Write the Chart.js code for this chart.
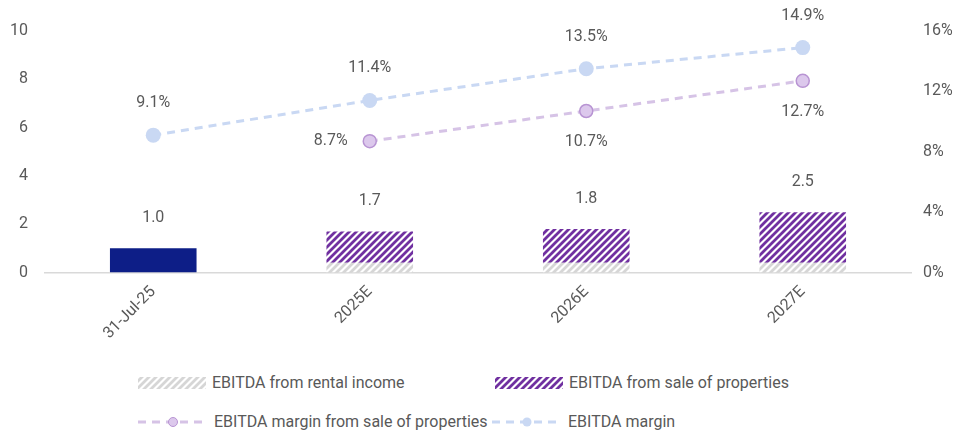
<!DOCTYPE html>
<html>
<head>
<meta charset="utf-8">
<script src="https://cdn.jsdelivr.net/npm/chart.js@4/dist/chart.umd.min.js"></script>
<style>
  body { margin: 0; background: #fff; font-family: Roboto, sans-serif; }
  #wrap { position: relative; width: 957px; height: 430px; }
  #chart { position: absolute; left: 0; top: 0; }
  .lg { position: absolute; display: flex; align-items: center; font-size: 16px; line-height: 18px; color: #595959; white-space: nowrap; }
  .lg canvas { margin-right: 6px; }
</style>
</head>
<body>
<div id="wrap">
  <canvas id="chart" width="957" height="361"></canvas>
  <div id="legend"></div>
</div>
<script>
const categories = ['31-Jul-25', '2025E', '2026E', '2027E']
const ebitdaActual = [1.0, null, null, null]
const ebitdaRental = [null, 0.4, 0.4, 0.4]
const ebitdaSale = [null, 1.3, 1.4, 2.1]
const ebitdaTotal = [1.0, 1.7, 1.8, 2.5]
const marginSale = [null, 8.7, 10.7, 12.7]
const marginTotal = [9.1, 11.4, 13.5, 14.9]
const leftTicks = [0, 2, 4, 6, 8, 10]
const rightTicks = [0, 4, 8, 12, 16]

const textColor = '#595959'
const font = { family: 'Roboto', size: 16 }

// diagonal hatch tile
function hatch(color) {
  const size = 7
  const c = document.createElement('canvas')
  c.width = size
  c.height = size
  const g = c.getContext('2d')
  g.fillStyle = '#fff'
  g.fillRect(0, 0, size, size)
  g.strokeStyle = color
  g.lineWidth = 2.8
  g.beginPath()
  g.moveTo(-1, size + 1); g.lineTo(size + 1, -1)
  g.moveTo(-1, 1); g.lineTo(1, -1)
  g.moveTo(size - 1, size + 1); g.lineTo(size + 1, size - 1)
  g.stroke()
  return document.createElement('canvas').getContext('2d').createPattern(c, 'repeat')
}
const greyHatch = hatch('#d6d6d6')
const purpleHatch = hatch('#7030a0')

// value labels for bars and lines
const valueLabels = {
  id: 'valueLabels',
  afterDatasetsDraw(chart) {
    const ctx = chart.ctx
    ctx.save()
    ctx.font = '16px Roboto'
    ctx.fillStyle = textColor
    ctx.textAlign = 'center'
    ctx.textBaseline = 'middle'
    const x = chart.scales.x, y = chart.scales.y, y1 = chart.scales.y1
    ebitdaTotal.forEach((v, i) => {
      ctx.fillText(v.toFixed(1), x.getPixelForValue(i), y.getPixelForValue(v) - 30)
    })
    marginTotal.forEach((v, i) => {
      ctx.fillText(v.toFixed(1) + '%', x.getPixelForValue(i), y1.getPixelForValue(v) - 32)
    })
    marginSale.forEach((v, i) => {
      if (v === null) return
      const px = x.getPixelForValue(i), py = y1.getPixelForValue(v)
      if (i === 1) {
        ctx.textAlign = 'right'
        ctx.fillText(v.toFixed(1) + '%', px - 22, py)
        ctx.textAlign = 'center'
      } else {
        ctx.fillText(v.toFixed(1) + '%', px, py + 31)
      }
    })
    ctx.restore()
  }
}

const chart = new Chart(document.getElementById('chart'), {
  type: 'bar',
  data: {
    labels: categories,
    datasets: [
      { label: 'EBITDA margin', type: 'line', data: marginTotal, yAxisID: 'y1',
        borderColor: '#c9d8f3', backgroundColor: '#c9d8f3', borderWidth: 3, borderDash: [8, 6],
        pointRadius: 7.5, pointBorderWidth: 0, pointBackgroundColor: '#c9d8f3', order: 1 },
      { label: 'EBITDA margin from sale of properties', type: 'line', data: marginSale, yAxisID: 'y1',
        borderColor: '#d6c3e6', backgroundColor: '#dcc8ec', borderWidth: 3, borderDash: [8, 6],
        pointRadius: 6.5, pointBorderWidth: 1.5, pointBorderColor: '#b894d3', pointBackgroundColor: '#dcc8ec', order: 0 },
      { label: 'actual', data: ebitdaActual, backgroundColor: '#0d1e87', stack: 's', order: 2 },
      { label: 'EBITDA from rental income', data: ebitdaRental, backgroundColor: greyHatch, stack: 's', order: 2 },
      { label: 'EBITDA from sale of properties', data: ebitdaSale, backgroundColor: purpleHatch, stack: 's', order: 2 }
    ]
  },
  options: {
    responsive: false,
    animation: false,
    layout: { padding: { top: 31, left: 10, right: 2, bottom: 8 } },
    datasets: { bar: { barPercentage: 0.8, categoryPercentage: 0.5 } },
    plugins: { legend: { display: false }, tooltip: { enabled: false } },
    scales: {
      x: {
        stacked: true,
        grid: { display: false, drawTicks: false },
        border: { display: true, color: '#d9d9d9', width: 1.5 },
        ticks: { color: textColor, font, minRotation: 45, maxRotation: 45, padding: 10 },
        // rotated labels fit inside the plot, no extra side padding
        afterFit: (s) => { s.paddingLeft = 0; s.paddingRight = 0 }
      },
      y: {
        stacked: true, min: 0, max: 10,
        afterBuildTicks: (s) => { s.ticks = leftTicks.map(v => ({ value: v })) },
        grid: { display: false, drawTicks: false }, border: { display: false },
        ticks: { color: textColor, font, padding: 17 },
        afterFit: (s) => { s.width = 35 }
      },
      y1: {
        position: 'right', min: 0, max: 16,
        afterBuildTicks: (s) => { s.ticks = rightTicks.map(v => ({ value: v })) },
        grid: { display: false, drawTicks: false }, border: { display: false },
        ticks: { color: textColor, font, padding: 12, callback: (v) => v + '%' },
        afterFit: (s) => { s.width = 44 }
      }
    }
  },
  plugins: [valueLabels]
})

// legend below the chart, two per row
const legendItems = [
  { text: 'EBITDA from rental income', kind: 'box', fill: greyHatch, left: 138, top: 374 },
  { text: 'EBITDA from sale of properties', kind: 'box', fill: purpleHatch, left: 495, top: 374 },
  { text: 'EBITDA margin from sale of properties', kind: 'line', ds: chart.data.datasets[1], left: 138, top: 413 },
  { text: 'EBITDA margin', kind: 'line', ds: chart.data.datasets[0], left: 492, top: 413 }
]
const legend = document.getElementById('legend')
legendItems.forEach((it) => {
  const row = document.createElement('div')
  row.className = 'lg'
  row.style.left = it.left + 'px'
  row.style.top = it.top + 'px'
  const sw = document.createElement('canvas')
  sw.width = it.kind === 'box' ? 68 : 70
  sw.height = 18
  const g = sw.getContext('2d')
  if (it.kind === 'box') {
    g.fillStyle = it.fill
    g.fillRect(0, 3, sw.width, 12)
  } else {
    g.strokeStyle = it.ds.borderColor
    g.lineWidth = 3
    g.setLineDash([8, 6])
    g.beginPath(); g.moveTo(0, 9); g.lineTo(sw.width, 9); g.stroke()
    g.setLineDash([])
    g.fillStyle = it.ds.pointBackgroundColor
    g.beginPath(); g.arc(sw.width / 2, 9, 4.5, 0, Math.PI * 2); g.fill()
    if (it.ds.pointBorderWidth) {
      g.strokeStyle = it.ds.pointBorderColor
      g.lineWidth = 1
      g.stroke()
    }
  }
  row.appendChild(sw)
  const label = document.createElement('span')
  label.textContent = it.text
  row.appendChild(label)
  legend.appendChild(row)
})
</script>
</body>
</html>
